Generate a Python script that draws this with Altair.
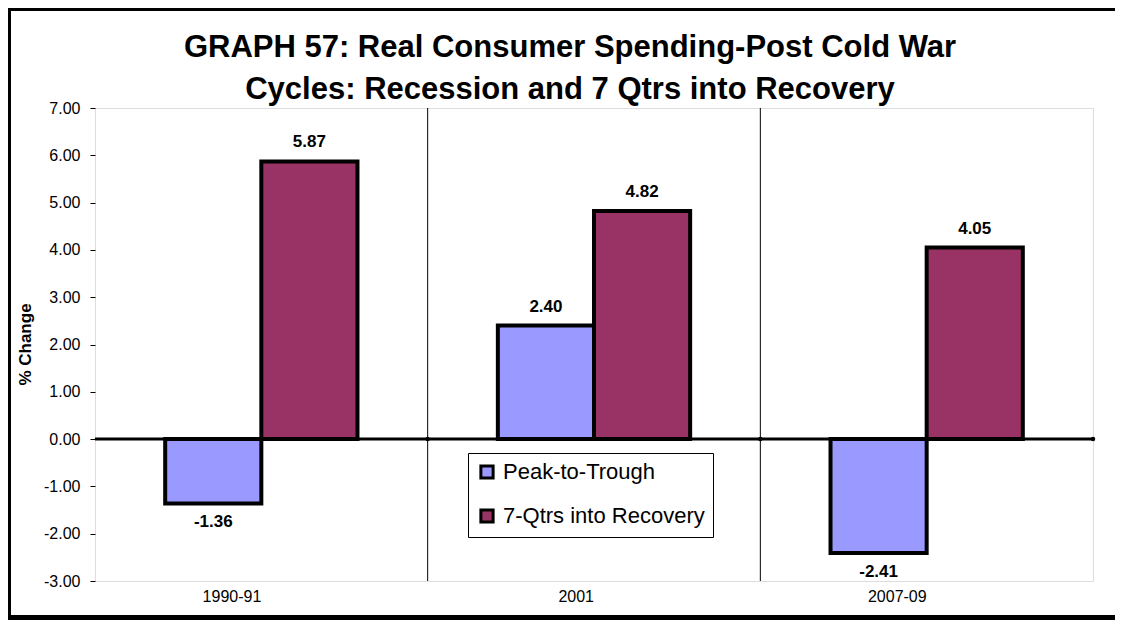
import altair as alt
import pandas as pd

categories = ["1990-91", "2001", "2007-09"]
series = ["Peak-to-Trough", "7-Qtrs into Recovery"]
peak_to_trough = [-1.36, 2.40, -2.41]
recovery = [5.87, 4.82, 4.05]
y_ticks = [-3, -2, -1, 0, 1, 2, 3, 4, 5, 6, 7]
colors = ["#9999FF", "#993366"]
title_lines = ["GRAPH 57: Real Consumer Spending-Post Cold War",
               "Cycles: Recession and 7 Qtrs into Recovery"]

rows = []
for i, c in enumerate(categories):
    rows.append({"cat": c, "series": series[0], "value": peak_to_trough[i]})
    rows.append({"cat": c, "series": series[1], "value": recovery[i]})
df = pd.DataFrame(rows)

FONT = "Liberation Sans"
MINUS_FIX = "replace(format(datum.value, '.2f'), '\u2212', '-')"

xscale = alt.Scale(domain=categories, paddingInner=0, paddingOuter=0)
yscale = alt.Scale(domain=[-3, 7], nice=False, zero=False)
xoff_scale = alt.Scale(domain=series, paddingInner=0, paddingOuter=0.73)

base = alt.Chart(df).transform_calculate(label=MINUS_FIX)

bars = base.mark_bar(stroke="black", strokeWidth=4, strokeJoin="miter").encode(
    x=alt.X("cat:N", scale=xscale, sort=categories,
            axis=alt.Axis(title=None, ticks=False, domain=False, labelAngle=0,
                          labelFontSize=16, labelFont=FONT, labelColor="black",
                          labelPadding=15, grid=False)),
    xOffset=alt.XOffset("series:N", scale=xoff_scale, sort=series),
    y=alt.Y("value:Q", scale=yscale,
            axis=alt.Axis(values=y_ticks, labelExpr=MINUS_FIX, title="% Change",
                          titleFont=FONT, titleFontSize=17, titleFontWeight="bold",
                          titleColor="black", titleX=-61, titleY=236,
                          titleAngle=-90, titleBaseline="bottom",
                          labelFont=FONT, labelFontSize=16, labelColor="black",
                          labelPadding=10, tickSize=5, tickColor="black",
                          domain=False, grid=False)),
    y2=alt.datum(0),
    color=alt.Color("series:N", sort=series,
                    scale=alt.Scale(domain=series, range=colors),
                    legend=alt.Legend(title=None, orient="none", legendX=373, legendY=345,
                                      fillColor="white", strokeColor="black",
                                      padding=8, rowPadding=18,
                                      labelFont=FONT, labelFontSize=22, labelColor="black",
                                      labelLimit=0, labelOffset=5,
                                      symbolType="square", symbolSize=150,
                                      symbolStrokeColor="black", symbolStrokeWidth=3)),
)

pos_labels = base.transform_filter("datum.value >= 0").mark_text(
    baseline="bottom", dy=-10, fontSize=17, fontWeight="bold", font=FONT, color="black"
).encode(
    x=alt.X("cat:N", scale=xscale, sort=categories),
    xOffset=alt.XOffset("series:N", scale=xoff_scale, sort=series),
    y=alt.Y("value:Q", scale=yscale),
    text=alt.Text("label:N"),
)

neg_labels = base.transform_filter("datum.value < 0").mark_text(
    baseline="top", dy=11, fontSize=17, fontWeight="bold", font=FONT, color="black"
).encode(
    x=alt.X("cat:N", scale=xscale, sort=categories),
    xOffset=alt.XOffset("series:N", scale=xoff_scale, sort=series),
    y=alt.Y("value:Q", scale=yscale),
    text=alt.Text("label:N"),
)

bound_df = pd.DataFrame({"cat": categories[1:]})
grid = alt.Chart(bound_df).mark_rule(color="black", strokeWidth=1).encode(
    x=alt.X("cat:N", scale=xscale, sort=categories, bandPosition=0),
)

zero = alt.Chart(pd.DataFrame({"z": [0]})).mark_rule(color="black", strokeWidth=3).encode(
    y=alt.Y("z:Q", scale=yscale),
)

dots = alt.Chart(bound_df).mark_point(filled=True, color="black", size=20, opacity=1).encode(
    x=alt.X("cat:N", scale=xscale, sort=categories, bandPosition=0),
    y=alt.datum(0),
)
end_dot = alt.Chart(pd.DataFrame({"cat": [categories[-1]]})).mark_point(
    filled=True, color="black", size=20, opacity=1).encode(
    x=alt.X("cat:N", scale=xscale, sort=categories, bandPosition=1),
    y=alt.datum(0),
)

one = pd.DataFrame({"f": [0]})
frame_top = alt.Chart(one).mark_rect(color="black").encode(
    x=alt.value(-87), x2=alt.value(1020), y=alt.value(-100), y2=alt.value(-97))
frame_left = alt.Chart(one).mark_rect(color="black").encode(
    x=alt.value(-87), x2=alt.value(-84), y=alt.value(-100), y2=alt.value(512))
frame_bottom = alt.Chart(one).mark_rect(color="black").encode(
    x=alt.value(-87), x2=alt.value(1020), y=alt.value(507), y2=alt.value(512))

title1 = alt.Chart(pd.DataFrame({"t": [title_lines[0]]})).mark_text(
    font=FONT, fontSize=31, fontWeight="bold", color="black",
    align="center", baseline="alphabetic").encode(
    x=alt.value(475), y=alt.value(-51), text="t:N")
title2 = alt.Chart(pd.DataFrame({"t": [title_lines[1]]})).mark_text(
    font=FONT, fontSize=31, fontWeight="bold", color="black",
    align="center", baseline="alphabetic").encode(
    x=alt.value(475), y=alt.value(-9), text="t:N")

chart = alt.layer(grid, bars, zero, dots, end_dot, pos_labels, neg_labels,
                  frame_top, frame_left, frame_bottom, title1, title2).properties(
    width=998,
    height=473,
    autosize=alt.AutoSizeParams(type="none"),
    padding={"left": 87, "top": 100, "right": 22, "bottom": 39},
).configure_view(
    stroke="#868686", strokeWidth=4
).configure(background="white")

chart.save("out.html", embed_options={"renderer": "svg", "actions": False})
